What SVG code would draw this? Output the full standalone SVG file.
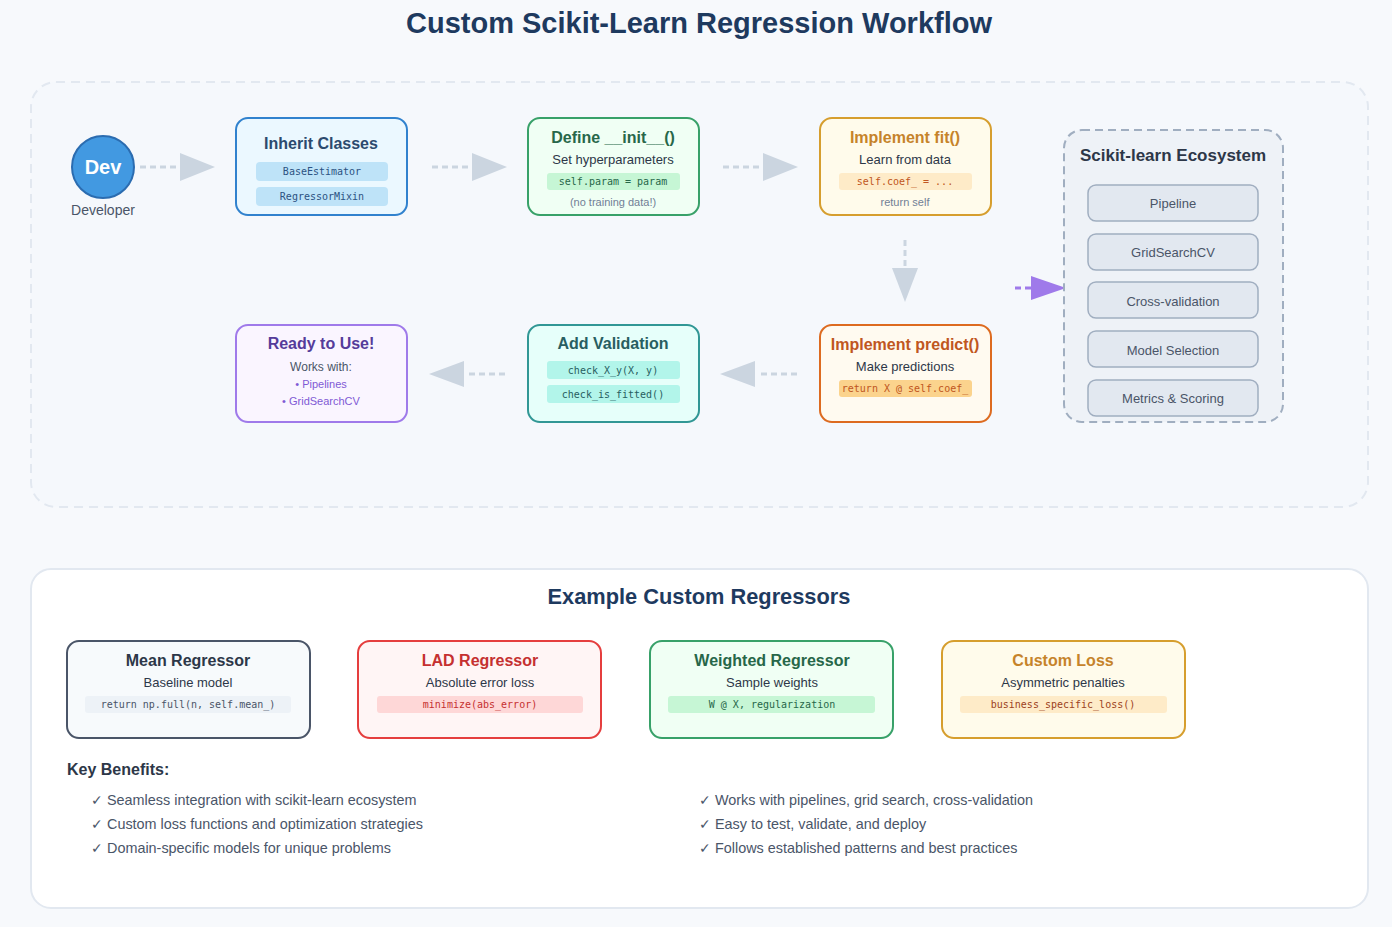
<svg xmlns="http://www.w3.org/2000/svg" width="1392" height="927" viewBox="0 0 1392 927">
<defs>
<style>
text{font-family:"Liberation Sans",Arial,sans-serif;text-anchor:middle}
.mono{font-family:"DejaVu Sans Mono","Liberation Mono",monospace;font-size:10px}
.h{font-weight:bold;font-size:16px}
.sub{font-size:13px;fill:#2d3748}
.small{font-size:11px;fill:#718096}
.eco rect{fill:#e2e8f0;stroke:#a0aec0;stroke-width:1.5}
.eco text{font-size:13px;fill:#4a5568}
.dash{stroke:#cbd5e0;stroke-width:3;stroke-dasharray:6,4;fill:none}
.head{fill:#cbd5e0}
.ben{font-size:14.4px;fill:#4a5568;text-anchor:start}
</style>
</defs>
<rect width="1392" height="927" fill="#f7f9fc"/>
<text x="699" y="33" font-size="29" font-weight="bold" fill="#1e3a5f">Custom Scikit-Learn Regression Workflow</text>

<rect x="31" y="82" width="1337" height="425" rx="25" fill="#f5f8fc" stroke="#e2e8f0" stroke-width="2" stroke-dasharray="9,6"/>

<g id="connectors">
<line class="dash" x1="140" y1="167" x2="180" y2="167"/>
<polygon class="head" points="180,153 215,167 180,181"/>
<line class="dash" x1="432" y1="167" x2="472" y2="167"/>
<polygon class="head" points="472,153 507,167 472,181"/>
<line class="dash" x1="723" y1="167" x2="763" y2="167"/>
<polygon class="head" points="763,153 798,167 763,181"/>
<line class="dash" x1="905" y1="240" x2="905" y2="268"/>
<polygon class="head" points="892,268 918,268 905,302"/>
<line x1="1015" y1="288" x2="1035" y2="288" stroke="#9f7aea" stroke-width="3" stroke-dasharray="6,4"/>
<polygon fill="#9f7aea" points="1031,276 1066,288 1031,300"/>
<line class="dash" x1="797" y1="374" x2="757" y2="374"/>
<polygon class="head" points="755,361 720,374 755,387"/>
<line class="dash" x1="505" y1="374" x2="466" y2="374"/>
<polygon class="head" points="464,361 429,374 464,387"/>
</g>

<g id="developer">
<circle cx="103" cy="167" r="31" fill="#4299e1" stroke="#2b6cb0" stroke-width="2"/>
<text x="103" y="174" font-size="20" font-weight="bold" fill="#fff">Dev</text>
<text x="103" y="215" font-size="14" fill="#4a5568">Developer</text>
</g>

<g id="inherit">
<rect x="236" y="118" width="171" height="97" rx="12" fill="#ebf8ff" stroke="#3182ce" stroke-width="2"/>
<text x="321" y="149" class="h" fill="#2c4a6e">Inherit Classes</text>
<rect x="256" y="162" width="132" height="19" rx="4" fill="#bee3f8"/>
<text x="322" y="175" class="mono" fill="#2c5282">BaseEstimator</text>
<rect x="256" y="187" width="132" height="19" rx="4" fill="#bee3f8"/>
<text x="322" y="200" class="mono" fill="#2c5282">RegressorMixin</text>
</g>

<g id="init">
<rect x="528" y="118" width="171" height="97" rx="12" fill="#f0fff4" stroke="#38a169" stroke-width="2"/>
<text x="613" y="143" class="h" fill="#276749">Define __init__()</text>
<text x="613" y="164" class="sub">Set hyperparameters</text>
<rect x="547" y="173" width="133" height="17" rx="3" fill="#c6f6d5"/>
<text x="613" y="185" class="mono" fill="#276749">self.param = param</text>
<text x="613" y="206" class="small">(no training data!)</text>
</g>

<g id="fit">
<rect x="820" y="118" width="171" height="97" rx="12" fill="#fffbeb" stroke="#d69e2e" stroke-width="2"/>
<text x="905" y="143" class="h" fill="#c6832a">Implement fit()</text>
<text x="905" y="164" class="sub">Learn from data</text>
<rect x="839" y="173" width="133" height="17" rx="3" fill="#feebc8"/>
<text x="905" y="185" class="mono" fill="#c05621">self.coef_ = ...</text>
<text x="905" y="206" class="small">return self</text>
</g>

<g id="ecosystem">
<rect x="1064" y="130" width="219" height="292" rx="18" fill="#eef2f7" stroke="#a0aec0" stroke-width="2" stroke-dasharray="8,5"/>
<text x="1173" y="161" font-size="17" font-weight="bold" fill="#2d3748">Scikit-learn Ecosystem</text>
<g class="eco">
<rect x="1088" y="185" width="170" height="36" rx="8"/>
<text x="1173" y="208">Pipeline</text>
<rect x="1088" y="234" width="170" height="36" rx="8"/>
<text x="1173" y="257">GridSearchCV</text>
<rect x="1088" y="282" width="170" height="36" rx="8"/>
<text x="1173" y="306">Cross-validation</text>
<rect x="1088" y="331" width="170" height="36" rx="8"/>
<text x="1173" y="355">Model Selection</text>
<rect x="1088" y="380" width="170" height="36" rx="8"/>
<text x="1173" y="403">Metrics &amp; Scoring</text>
</g>
</g>

<g id="predict">
<rect x="820" y="325" width="171" height="97" rx="12" fill="#fffaf0" stroke="#dd6b20" stroke-width="2"/>
<text x="905" y="350" class="h" fill="#c05621">Implement predict()</text>
<text x="905" y="371" class="sub">Make predictions</text>
<rect x="839" y="380" width="133" height="17" rx="3" fill="#fbd38d"/>
<text x="905" y="392" class="mono" fill="#c05621">return X @ self.coef_</text>
</g>

<g id="validation">
<rect x="528" y="325" width="171" height="97" rx="12" fill="#e6fffa" stroke="#319795" stroke-width="2"/>
<text x="613" y="349" class="h" fill="#285e61">Add Validation</text>
<rect x="547" y="361" width="133" height="18" rx="3" fill="#b2f5ea"/>
<text x="613" y="374" class="mono" fill="#285e61">check_X_y(X, y)</text>
<rect x="547" y="385" width="133" height="18" rx="3" fill="#b2f5ea"/>
<text x="613" y="398" class="mono" fill="#285e61">check_is_fitted()</text>
</g>

<g id="ready">
<rect x="236" y="325" width="171" height="97" rx="12" fill="#faf5ff" stroke="#9f7aea" stroke-width="2"/>
<text x="321" y="349" class="h" fill="#553c9a">Ready to Use!</text>
<text x="321" y="371" font-size="12" fill="#4a5568">Works with:</text>
<text x="321" y="388" font-size="11" fill="#805ad5">• Pipelines</text>
<text x="321" y="405" font-size="11" fill="#805ad5">• GridSearchCV</text>
</g>

<rect x="31" y="569" width="1337" height="339" rx="20" fill="#ffffff" stroke="#e2e8f0" stroke-width="2"/>
<text x="699" y="604" font-size="21.8" font-weight="bold" fill="#1e3a5f">Example Custom Regressors</text>

<g id="mean">
<rect x="67" y="641" width="243" height="97" rx="12" fill="#f7fafc" stroke="#4a5568" stroke-width="2"/>
<text x="188" y="666" class="h" fill="#2d3748">Mean Regressor</text>
<text x="188" y="687" class="sub">Baseline model</text>
<rect x="85" y="696" width="206" height="17" rx="3" fill="#edf2f7"/>
<text x="188" y="708" class="mono" fill="#4a5568">return np.full(n, self.mean_)</text>
</g>

<g id="lad">
<rect x="358" y="641" width="243" height="97" rx="12" fill="#fff5f5" stroke="#e53e3e" stroke-width="2"/>
<text x="480" y="666" class="h" fill="#c53030">LAD Regressor</text>
<text x="480" y="687" class="sub">Absolute error loss</text>
<rect x="377" y="696" width="206" height="17" rx="3" fill="#fed7d7"/>
<text x="480" y="708" class="mono" fill="#c53030">minimize(abs_error)</text>
</g>

<g id="weighted">
<rect x="650" y="641" width="243" height="97" rx="12" fill="#f0fff4" stroke="#38a169" stroke-width="2"/>
<text x="772" y="666" class="h" fill="#276749">Weighted Regressor</text>
<text x="772" y="687" class="sub">Sample weights</text>
<rect x="668" y="696" width="207" height="17" rx="3" fill="#c6f6d5"/>
<text x="772" y="708" class="mono" fill="#276749">W @ X, regularization</text>
</g>

<g id="customloss">
<rect x="942" y="641" width="243" height="97" rx="12" fill="#fffbeb" stroke="#d69e2e" stroke-width="2"/>
<text x="1063" y="666" class="h" fill="#c6832a">Custom Loss</text>
<text x="1063" y="687" class="sub">Asymmetric penalties</text>
<rect x="960" y="696" width="207" height="17" rx="3" fill="#feebc8"/>
<text x="1063" y="708" class="mono" fill="#9c4221">business_specific_loss()</text>
</g>

<g id="benefits">
<text x="67" y="775" font-size="16" font-weight="bold" fill="#2d3748" style="text-anchor:start">Key Benefits:</text>
<text x="91" y="805" class="ben">✓ Seamless integration with scikit-learn ecosystem</text>
<text x="91" y="829" class="ben">✓ Custom loss functions and optimization strategies</text>
<text x="91" y="853" class="ben">✓ Domain-specific models for unique problems</text>
<text x="699" y="805" class="ben">✓ Works with pipelines, grid search, cross-validation</text>
<text x="699" y="829" class="ben">✓ Easy to test, validate, and deploy</text>
<text x="699" y="853" class="ben">✓ Follows established patterns and best practices</text>
</g>
</svg>
